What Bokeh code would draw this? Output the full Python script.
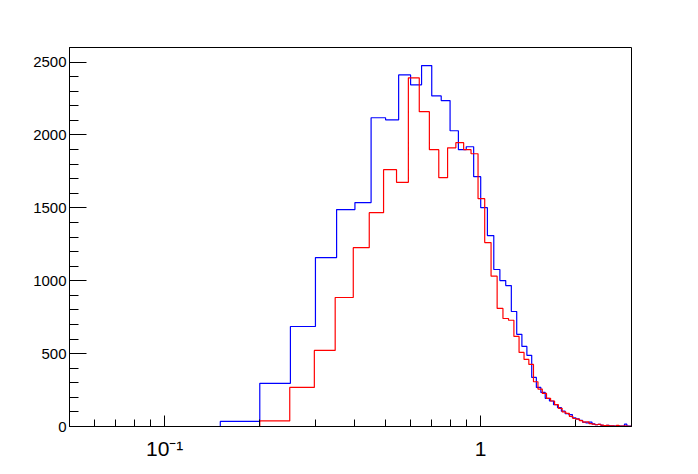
import numpy as np
from bokeh.plotting import figure
from bokeh.models import Range1d, FixedTicker
from bokeh.embed import file_html
from bokeh.resources import INLINE

# ---- data -------------------------------------------------------------
# blue histogram: bins of width 0.05 starting at 0.0 (60 bins up to 3.0)
blue_start = 0.0
blue_width = 0.05
blue_counts = [0, 0, 0, 35, 296, 686, 1159, 1488, 1536, 2118,
               2104, 2412, 2344, 2476, 2268, 2236, 2029, 1899, 1919, 1714,
               1501, 1310, 1077, 1001, 967, 789, 632, 549, 488, 337,
               268, 234, 193, 175, 150, 130, 105, 88, 82, 60,
               52, 42, 30, 25, 30, 18, 12, 14, 8, 6,
               8, 4, 5, 3, 4, 2, 3, 16, 2, 3]

# red histogram: bins of width 0.0488 starting at 0.2
red_start = 0.2
red_width = 0.0488
red_counts = [38, 268, 522, 885, 1227, 1467, 1762, 1675, 2392, 2160,
              1899, 1707, 1912, 1947, 1899, 1871, 1563, 1262, 1031, 810,
              741, 729, 618, 508, 460, 426, 307, 257, 227, 193,
              175, 150, 125, 100, 90, 70, 55, 50, 40, 30,
              32, 20, 16, 12, 14, 10, 6, 8, 5, 4,
              3, 8, 3, 2, 4, 2, 1, 2]

x_lo, x_hi = 0.05, 3.0
y_lo, y_hi = 0, 2600
y_major = [0, 500, 1000, 1500, 2000, 2500]
y_minor = [v for v in range(0, 2700, 100) if v not in y_major]
x_major = [0.1, 1.0]
x_minor = [0.06, 0.07, 0.08, 0.09, 0.2, 0.3, 0.4, 0.5, 0.6, 0.7, 0.8, 0.9, 2.0, 3.0]
x_labels = {0.1: "10\u207b\u00b9", 1.0: "1"}


def outline(start, width, counts, xmin):
    xs, ys = [], []
    edges = [start + i * width for i in range(len(counts) + 1)]
    if edges[0] > xmin:
        xs += [xmin, edges[0]]
        ys += [0, 0]
    for i, c in enumerate(counts):
        lo = max(edges[i], xmin)
        hi = edges[i + 1]
        if hi <= xmin:
            continue
        xs += [lo, hi]
        ys += [c, c]
    return xs, ys


p = figure(width=690, height=466, x_axis_type="log",
           x_range=Range1d(x_lo, x_hi), y_range=Range1d(y_lo, y_hi),
           output_backend="svg", toolbar_location=None,
           min_border_left=69, min_border_right=59,
           min_border_top=47, min_border_bottom=40)
p.background_fill_color = "white"
p.border_fill_color = "white"
p.outline_line_color = "black"
p.outline_line_width = 1
p.outline_line_alpha = 1
p.xgrid.visible = False
p.ygrid.visible = False

bx, by = outline(blue_start, blue_width, blue_counts, x_lo)
rx, ry = outline(red_start, red_width, red_counts, x_lo)
p.line(bx, by, line_color="#0000ff", line_width=1.2)
p.line(rx, ry, line_color="#ff0000", line_width=1.2)

# axes styling (ROOT-like)
p.yaxis.ticker = FixedTicker(ticks=y_major, minor_ticks=y_minor)
p.yaxis.major_tick_in = 17
p.yaxis.major_tick_out = 0
p.yaxis.minor_tick_in = 9
p.yaxis.minor_tick_out = 0
p.yaxis.major_label_standoff = 3
p.yaxis.major_label_text_font = "Liberation Sans"
p.yaxis.major_label_text_font_size = "15px"
p.yaxis.major_label_text_color = "black"
p.yaxis.axis_line_color = "black"
p.yaxis.major_tick_line_color = "black"
p.yaxis.minor_tick_line_color = "black"

p.xaxis.ticker = FixedTicker(ticks=x_major, minor_ticks=x_minor)
p.xaxis.major_label_overrides = x_labels
p.xaxis.major_tick_in = 11
p.xaxis.major_tick_out = 0
p.xaxis.minor_tick_in = 7
p.xaxis.minor_tick_out = 0
p.xaxis.major_label_standoff = 10
p.xaxis.major_label_text_font = "Liberation Sans"
p.xaxis.major_label_text_font_size = "21px"
p.xaxis.major_label_text_color = "black"
p.xaxis.axis_line_color = "black"
p.xaxis.major_tick_line_color = "black"
p.xaxis.minor_tick_line_color = "black"

open("out.html", "w").write(file_html(p, INLINE))
